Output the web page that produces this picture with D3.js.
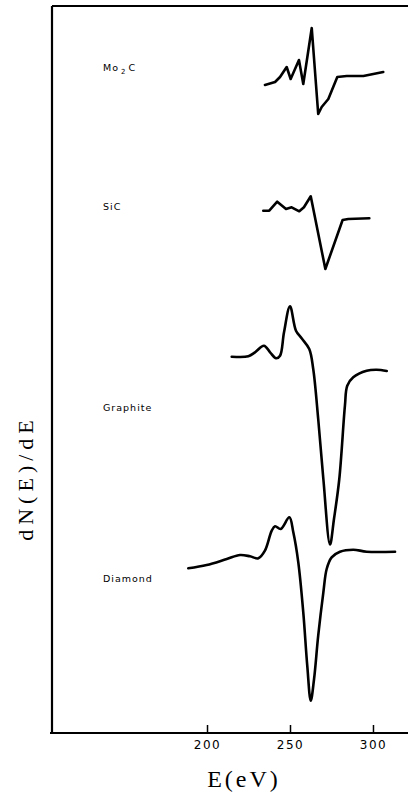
<!DOCTYPE html>
<html>
<head>
<meta charset="utf-8">
<script src="https://cdn.jsdelivr.net/npm/d3@7"></script>
<style>
  html, body { margin: 0; padding: 0; background: #fff; }
  svg { display: block; }
</style>
</head>
<body>
<svg id="chart" width="408" height="803"></svg>
<script>
// ---- Data (energy in eV, dN(E)/dE in arbitrary offset units) ----
const mo2cE   = [234.9, 241.0, 244.0, 248.0, 250.4, 255.4, 258.0, 263.1, 267.0, 269.1, 273.1, 278.5, 284.2, 294.2, 300.2, 306.2];
const mo2cV   = [648, 651, 656, 666, 654, 673, 649, 705, 619, 626, 634, 656, 657, 657, 659, 661];

const sicE    = [233.9, 237.5, 242.3, 247.6, 251.0, 255.6, 258.4, 262.5, 271.3, 281.7, 285.1, 297.8];
const sicV    = [522.3, 522.3, 531.3, 524, 525.7, 521.7, 525.7, 536.7, 464, 513, 514, 514.7];

const graphE  = [214.9, 224.9, 228.9, 234.3, 238.0, 241.6, 244.0, 246.4, 250.0, 253.6, 257.0, 261.6, 264.0, 267.0, 270.1, 274.1, 276.5, 279.7, 283.1, 284.5, 288.1, 296.2, 302.2, 308.3];
const graphV  = [376.3, 376.7, 380.7, 387.3, 380.7, 374.7, 377.3, 400.7, 426.7, 402.3, 394.7, 384, 364, 314, 254, 188.5, 214, 254, 327.3, 347.3, 355.7, 362.3, 363.3, 362];

const diamE   = [188.7, 199.8, 211.9, 219.9, 225.9, 230.9, 234.9, 239.0, 241.0, 244.4, 249.6, 252.0, 255.0, 258.0, 260.4, 262.5, 264.5, 267.0, 270.1, 272.1, 275.1, 280.1, 288.1, 296.2, 313.3];
const diamV   = [164.7, 168, 174, 178, 176.7, 174.7, 182.3, 202.3, 206.7, 204, 215.7, 200.7, 170.7, 120.7, 67.3, 32.3, 54, 97.3, 140.7, 164, 175.7, 181.3, 183.3, 181.3, 181.3];

const seriesNames = [["Mo", "2", "C"], ["SiC"], ["Graphite"], ["Diamond"]];
const labelLevels = [662, 523, 322, 151];   // label vertical position in the same offset units
const xTicks = [200, 250, 300];
const xTitle = "E(eV)";
const yTitle = "dN(E)/dE";

// ---- Layout ----
const svg = d3.select("#chart");
const mLeft = 52, mRight = 408, mTop = 6, mBottom = 733;

const x = d3.scaleLinear().domain([106.6, 321.1]).range([mLeft, mRight]);
const y = d3.scaleLinear().domain([0, 727]).range([mBottom, mTop]);

// frame: left and top lines
svg.append("line").attr("x1", mLeft).attr("x2", mLeft).attr("y1", mTop).attr("y2", mBottom)
  .attr("stroke", "#000").attr("stroke-width", 2.2);
svg.append("line").attr("x1", mLeft).attr("x2", mRight).attr("y1", mTop).attr("y2", mTop)
  .attr("stroke", "#000").attr("stroke-width", 2);

// x axis
const xAxis = d3.axisBottom(x).tickValues(xTicks).tickSizeInner(-8).tickSizeOuter(0).tickPadding(7);
const gx = svg.append("g").attr("transform", `translate(0,${mBottom})`).call(xAxis);
gx.select(".domain").attr("stroke", "#000").attr("stroke-width", 2).attr("d", `M${mLeft - 2},0H${mRight}`);
gx.selectAll(".tick line").attr("stroke", "#000").attr("stroke-width", 1.5);
gx.selectAll(".tick text").attr("font-family", "DejaVu Sans, sans-serif").attr("font-size", 12)
  .attr("letter-spacing", 1.5).attr("fill", "#000");

// curves
const seriesE = [mo2cE, sicE, graphE, diamE];
const seriesV = [mo2cV, sicV, graphV, diamV];
const curves = [d3.curveLinear, d3.curveLinear, d3.curveCatmullRom.alpha(0.5), d3.curveCatmullRom.alpha(0.5)];
seriesE.forEach((E, i) => {
  const pts = E.map((e, j) => [e, seriesV[i][j]]);
  const line = d3.line().x(d => x(d[0])).y(d => y(d[1])).curve(curves[i]);
  svg.append("path").attr("d", line(pts)).attr("fill", "none")
    .attr("stroke", "#000").attr("stroke-width", 2.6).attr("stroke-linejoin", "round").attr("stroke-linecap", "round");
});

// series labels
seriesNames.forEach((parts, i) => {
  const t = svg.append("text").attr("x", 103).attr("y", y(labelLevels[i]))
    .attr("font-family", "DejaVu Sans, sans-serif").attr("font-size", 9.5)
    .attr("letter-spacing", 1).attr("fill", "#000");
  if (parts.length === 1) {
    t.text(parts[0]);
  } else {
    t.append("tspan").text(parts[0]);
    t.append("tspan").attr("dx", 2).attr("dy", 3).attr("font-size", 7).text(parts[1]);
    t.append("tspan").attr("dx", 2).attr("dy", -3).text(parts[2]);
  }
});

// axis titles
svg.append("text").attr("x", 244).attr("y", 787).attr("text-anchor", "middle")
  .attr("font-family", "Liberation Serif, serif").attr("font-size", 24).attr("letter-spacing", 3)
  .attr("fill", "#000").text(xTitle);
svg.append("text").attr("transform", "translate(33,478) rotate(-90)").attr("text-anchor", "middle")
  .attr("font-family", "Liberation Serif, serif").attr("font-size", 22).attr("letter-spacing", 5)
  .attr("fill", "#000").text(yTitle);
</script>
</body>
</html>
